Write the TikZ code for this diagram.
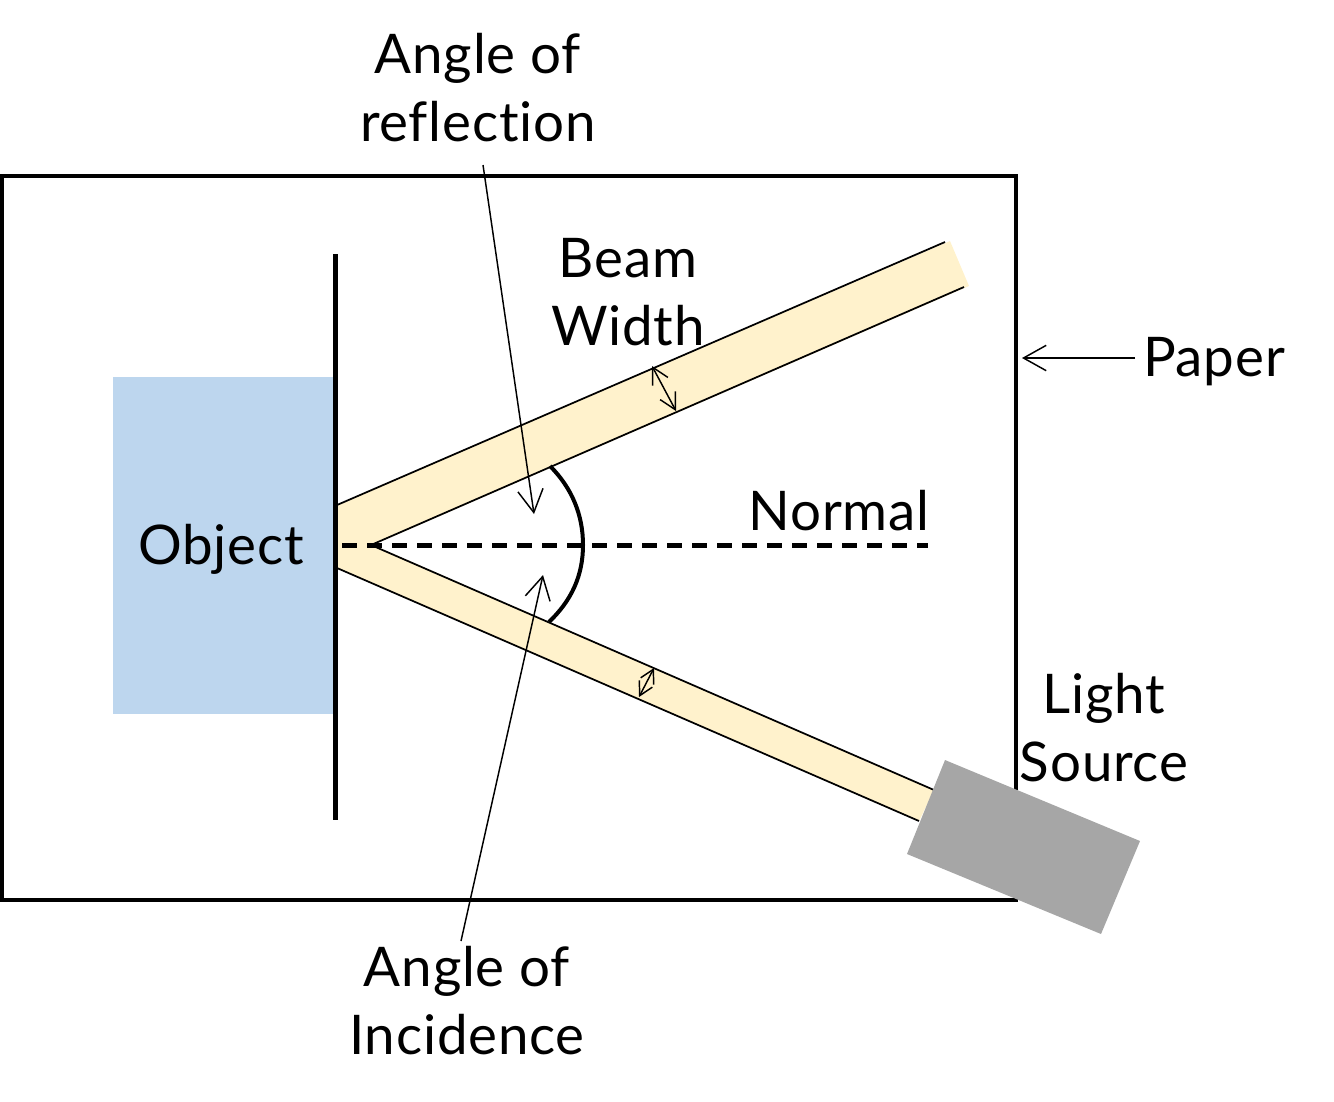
\documentclass[tikz,border=0pt]{standalone}
\usepackage{fontspec}
\setmainfont[Ligatures=NoCommon,LetterSpace=1.5]{Lato}
\usetikzlibrary{arrows.meta}
\definecolor{objblue}{HTML}{BDD6EE}
\definecolor{beamcol}{HTML}{FFF2CC}
\definecolor{srcgray}{HTML}{A6A6A6}
\tikzset{
  x=0.75pt,y=-0.75pt,
  label/.style={font=\fontsize{41}{51}\selectfont,inner sep=0pt,align=center,text=black},
  thinedge/.style={line width=1.3pt,black},
  bigarrow/.style={line width=1.1pt,-{Straight Barb[length=17pt,width=19pt,line width=1.1pt]}},
  smallarrow/.style={line width=1.1pt,{Straight Barb[length=12pt,width=13pt,line width=1.1pt]}-{Straight Barb[length=12pt,width=13pt,line width=1.1pt]}},
  tinyarrow/.style={line width=1.1pt,{Straight Barb[length=10pt,width=11pt,line width=1.1pt]}-{Straight Barb[length=10pt,width=11pt,line width=1.1pt]}},
}
\begin{document}
\begin{tikzpicture}
\useasboundingbox (0,0) rectangle (1334,1101);
% paper
\draw[line width=3pt,miter limit=2] (2,176) rectangle (1016,900);
% object
\fill[objblue] (113,377) rectangle (333,714);
% beams
\fill[beamcol] (337,505) -- (950,241) -- (969,286) -- (373,545) -- (934,790) -- (919,821) -- (337,568) -- cycle;
\coordinate (u1) at (337,505); \coordinate (u2) at (945,242);
\coordinate (v1) at (371,545); \coordinate (v2) at (964,287);
\coordinate (w1) at (934,790);
\coordinate (x1) at (337,568); \coordinate (x2) at (919,821);
\draw[thinedge] (u1) -- (u2);
\draw[thinedge] (v1) -- (v2);
\draw[thinedge] (v1) -- (w1);
\draw[thinedge] (x1) -- (x2);
% wall
\coordinate (walltop) at (335.5,254); \coordinate (wallbot) at (335.5,820);
\draw[line width=3.8pt] (walltop) -- (wallbot);
% light source
\fill[srcgray] (945,760) -- (1140,841) -- (1101,934) -- (907,854) -- cycle;
% normal
\coordinate (n1) at (342,545.5); \coordinate (n2) at (928,545.5);
\draw[line width=3.1pt,dash pattern=on 10.9pt off 7.85pt] (n1) -- (n2);
% angle arc
\coordinate (a1) at (550,466); \coordinate (a2) at (583,545); \coordinate (a3) at (549,622);
\draw[line width=3pt] (a1) .. controls (572,488) and (583,515) .. (a2) .. controls (583,575) and (572,600) .. (a3);
% labels
\node[label] (refl) at (478,88) {Angle of\\reflection};
\node[label] (beam) at (628,292) {Beam\\Width};
\node[label] (norm) at (839,511) {Normal};
\node[label] (paper) at (1214,362) {Paper};
\node[label] (obj) at (221,549) {Object};
\node[label] (light) at (1104,728) {Light\\Source};
\node[label] (inc) at (467,1001) {Angle of\\Incidence};
% arrows
\coordinate (r1) at (483,165); \coordinate (r2) at (534,514);
\draw[bigarrow] (r1) -- (r2);
\coordinate (i1) at (461,941); \coordinate (i2) at (543,575);
\draw[bigarrow] (i1) -- (i2);
\coordinate (p1) at (1135,358); \coordinate (p2) at (1022,358);
\draw[bigarrow] (p1) -- (p2);
\coordinate (b1) at (652,366); \coordinate (b2) at (676,411);
\draw[smallarrow] (b1) -- (b2);
\coordinate (c1) at (654,668); \coordinate (c2) at (639,697);
\draw[tinyarrow] (c1) -- (c2);
\end{tikzpicture}
\end{document}
